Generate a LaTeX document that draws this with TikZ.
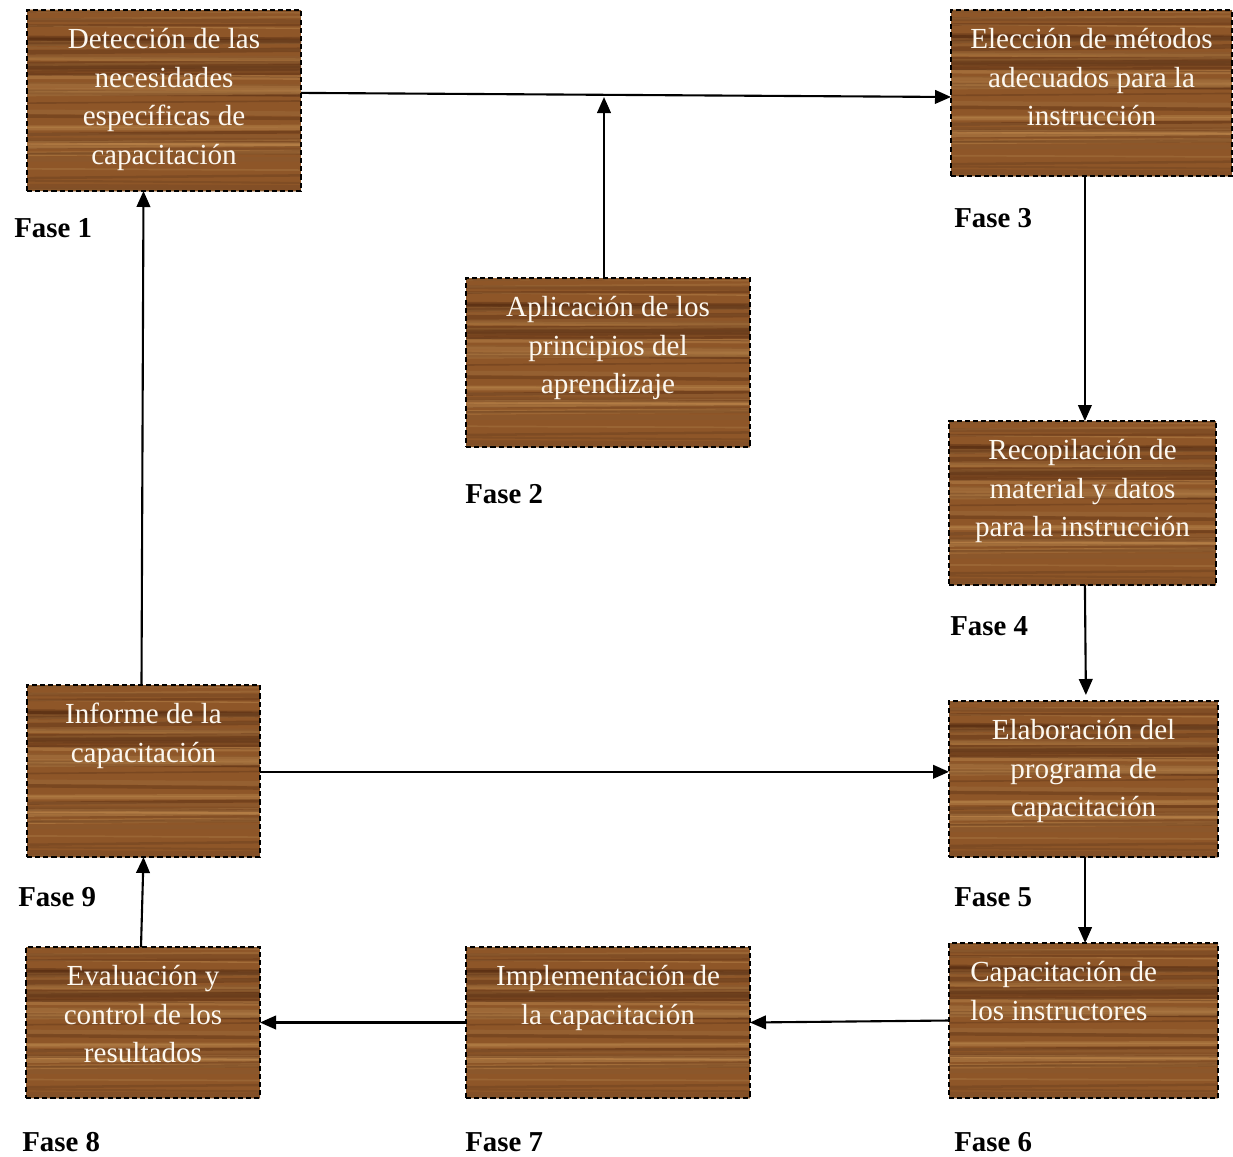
\documentclass[tikz,border=0pt]{standalone}
\usepackage{fontspec}
\setmainfont{Liberation Serif}
\definecolor{WoodBase}{RGB}{142, 86, 40}
\definecolor{WoodDark}{RGB}{80, 38, 14}
\definecolor{WoodLight}{RGB}{205, 152, 88}
\definecolor{BoxText}{RGB}{252, 248, 240}
\usetikzlibrary{arrows.meta, positioning, calc}

\begin{document}
\begin{tikzpicture}[
            x=0.025cm, y=-0.025cm,
            node distance=0.45cm,
            boxsize/.style 2 args={minimum width=#1*0.025cm, minimum height=#2*0.025cm},
            wood/.style={rectangle, draw=black, line width=1.4pt, dash pattern=on 3.6pt off 2.2pt,
                        fill=WoodBase, inner sep=0pt, outer sep=0pt,
                        path picture={
                            \coordinate (sw) at (path picture bounding box.south west);
                            \coordinate (nw) at (path picture bounding box.north west);
                            \coordinate (se) at (path picture bounding box.south east);
                            \coordinate (ne) at (path picture bounding box.north east);
                            \pgfmathsetseed{17}
                            \foreach \k in {1,...,60}{
                                \pgfmathsetmacro{\gy}{rnd}
                                \pgfmathsetmacro{\gz}{\gy+0.03*(rnd-0.5)}
                                \pgfmathsetmacro{\gw}{0.6+3*rnd}
                                \pgfmathtruncatemacro{\gc}{100*rnd}
                                \draw[solid, line width=\gw pt, WoodDark!\gc!WoodLight, opacity=0.45]
                                    ($(sw)!\gy!(nw)$) -- ($(se)!\gz!(ne)$);
                            }
                            \fill[inner color=orange!70!WoodBase, outer color=WoodBase, opacity=0.3]
                                ($(sw)!0.5!(se)+(0,-0.03)$) ellipse (0.35 and 0.12);
                        }},
            boxtext/.style={text=BoxText, align=center, inner sep=0pt,
                        font=\fontsize{20.7}{27.4}\selectfont},
            fase/.style={anchor=west, inner sep=0pt, font=\fontsize{20.5}{24}\selectfont\bfseries},
            arrow/.style={-{Triangle[length=4mm, width=3.4mm]}, line width=1.5pt, black}
        ]
            \useasboundingbox (0,0) rectangle (1233,1156);

            % phase boxes
            \node[wood, boxsize={274}{181}] (f1) at (164,100.5) {};
            \node[wood, boxsize={284}{169}] (f2) at (608,362.5) {};
            \node[wood, boxsize={281}{166}] (f3) at (1091.5,93) {};
            \node[wood, boxsize={267}{164}] (f4) at (1082.5,503) {};
            \node[wood, boxsize={269}{156}] (f5) at (1083.5,779) {};
            \node[wood, boxsize={269}{155}] (f6) at (1083.5,1020.5) {};
            \node[wood, boxsize={284}{151}] (f7) at (608,1022.5) {};
            \node[wood, boxsize={234}{151}] (f8) at (143,1022.5) {};
            \node[wood, boxsize={233}{172}] (f9) at (143.5,771) {};

            % box texts
            \node[boxtext, below=of f1.north] (t1) {Detección de las\\necesidades\\específicas de\\capacitación};
            \node[boxtext, below=of f2.north] (t2) {Aplicación de los\\principios del\\aprendizaje};
            \node[boxtext, below=of f3.north] (t3) {Elección de métodos\\adecuados para la\\instrucción};
            \node[boxtext, below=of f4.north] (t4) {Recopilación de\\material y datos\\para la instrucción};
            \node[boxtext, below=of f5.north] (t5) {Elaboración del\\programa de\\capacitación};
            \node[boxtext, align=left, below right=0.45cm and 0.525cm of f6.north west] (t6) {Capacitación de\\los instructores};
            \node[boxtext, below=of f7.north] (t7) {Implementación de\\la capacitación};
            \node[boxtext, below=of f8.north] (t8) {Evaluación y\\control de los\\resultados};
            \node[boxtext, below=of f9.north] (t9) {Informe de la\\capacitación};

            % phase labels
            \node[fase] (l1) at (14,228) {Fase 1};
            \node[fase] (l2) at (465,494) {Fase 2};
            \node[fase] (l3) at (954,218) {Fase 3};
            \node[fase] (l4) at (950,626) {Fase 4};
            \node[fase] (l5) at (954,897) {Fase 5};
            \node[fase] (l6) at (954,1142) {Fase 6};
            \node[fase] (l7) at (465,1142) {Fase 7};
            \node[fase] (l8) at (22,1142) {Fase 8};
            \node[fase] (l9) at (18,897) {Fase 9};

            % connectors
            \coordinate (join) at (604,97);
            \draw[arrow] ([yshift=0.19cm]f1.east) -- ([yshift=-0.1cm]f3.west);
            \draw[arrow] (f2.north -| join) -- (join);
            \draw[arrow] ([xshift=0.06cm]f3.south -| f4.north) -- ([xshift=0.06cm]f4.north);
            \draw[arrow] ([xshift=0.06cm]f4.south) -- ([xshift=0.06cm,yshift=0.15cm]f5.north);
            \draw[arrow] ([xshift=0.04cm]f5.south) -- ([xshift=0.04cm]f6.north);
            \draw[arrow] (f6.west) -- (f7.east);
            \draw[arrow] (f7.west) -- (f8.east);
            \draw[arrow] ([xshift=-0.05cm]f8.north) -- (f9.south);
            \draw[arrow] ([xshift=-0.05cm]f9.north) -- (f9.north |- f1.south);
            \draw[arrow] ([yshift=-0.02cm]f9.east) -- ([yshift=-0.02cm]f9.east -| f5.west);
        \end{tikzpicture}
\end{document}
